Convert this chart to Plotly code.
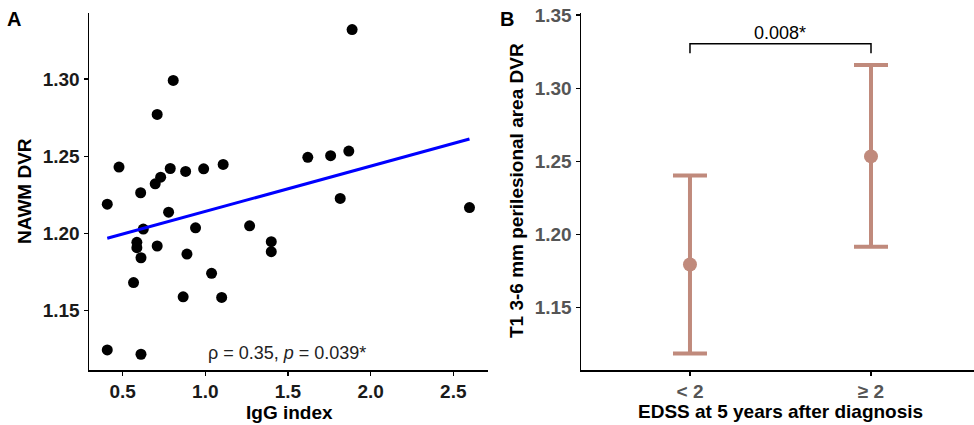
import numpy as np
import plotly.graph_objects as go

# ---------------- Panel A data ----------------
igg_index = [1.888, 0.806, 0.709, 1.868, 1.758, 1.620, 1.108, 0.990, 0.881, 0.788,
             0.730, 0.697, 0.609, 0.478, 0.407, 1.816, 2.598, 0.778,
             0.625, 0.941, 1.268, 0.586, 0.586, 0.709, 1.399, 1.399, 0.889, 0.611,
             1.038, 0.566, 0.866, 1.099, 0.407, 0.611]
nawm_dvr = [1.332, 1.299, 1.277, 1.2533, 1.2503, 1.2492, 1.2446, 1.2418, 1.2401, 1.2420,
            1.2364, 1.2321, 1.2263, 1.2429, 1.2189, 1.2226, 1.2167, 1.2137,
            1.2028, 1.2036, 1.2049, 1.1942, 1.1907, 1.1918, 1.1946, 1.1881, 1.1866, 1.1842,
            1.1741, 1.1681, 1.1589, 1.1585, 1.1245, 1.1217]
x_ticks_a = [0.5, 1.0, 1.5, 2.0, 2.5]
y_ticks_a = [1.15, 1.20, 1.25, 1.30]
annot_a = "ρ = 0.35, <i>p</i> = 0.039*"

# ---------------- Panel B data ----------------
edss_groups = ["< 2", "≥ 2"]
group_mean = [1.1795, 1.2534]
group_upper = [1.2404, 1.3159]
group_lower = [1.1186, 1.1916]
y_ticks_b = [1.15, 1.20, 1.25, 1.30, 1.35]
bracket_y = [1.3239, 1.3304, 1.3304, 1.3239]
p_text_b = "0.008*"

# regression line
slope, intercept = np.polyfit(igg_index, nawm_dvr, 1)
fit_x = np.array([min(igg_index), max(igg_index)])
fit_y = intercept + slope * fit_x

W, H = 974, 425
def px(x):
    return x / W
def py(y):
    return 1 - y / H

fig = go.Figure()

fig.add_trace(go.Scatter(x=igg_index, y=nawm_dvr, mode="markers",
                         marker=dict(color="black", size=11),
                         xaxis="x", yaxis="y", showlegend=False))
fig.add_trace(go.Scatter(x=fit_x, y=fit_y, mode="lines",
                         line=dict(color="#0000ff", width=3),
                         xaxis="x", yaxis="y", showlegend=False))

err_plus = [u - m for u, m in zip(group_upper, group_mean)]
err_minus = [m - l for m, l in zip(group_mean, group_lower)]
brown = "#C08A7C"
fig.add_trace(go.Scatter(x=edss_groups, y=group_mean, mode="markers",
                         marker=dict(color=brown, size=14),
                         error_y=dict(type="data", symmetric=False, array=err_plus,
                                      arrayminus=err_minus, color=brown,
                                      thickness=4, width=17),
                         xaxis="x2", yaxis="y2", showlegend=False))
fig.add_trace(go.Scatter(x=[edss_groups[0], edss_groups[0], edss_groups[1], edss_groups[1]],
                         y=bracket_y, mode="lines",
                         line=dict(color="black", width=1.5),
                         xaxis="x2", yaxis="y2", showlegend=False))

tickfont_a = dict(family="Liberation Sans, Arial", size=19, color="#1a1a1a")
tickfont_b = dict(family="Liberation Sans, Arial", size=19, color="#555555")
ydom = [py(370), py(13)]

common = dict(showline=True, linecolor="black", linewidth=1.5, ticks="outside",
              ticklen=4, tickcolor="black", tickwidth=1.2, showgrid=False, zeroline=False,
              automargin=False)

fig.update_layout(
    template="none",
    width=W, height=H,
    margin=dict(l=0, r=0, t=0, b=0, pad=0),
    plot_bgcolor="white", paper_bgcolor="white",
    font=dict(family="Liberation Sans, Arial", color="black"),
    hovermode=False,
    xaxis=dict(domain=[px(89), px(488)], range=[0.2965, 2.71], tickvals=x_ticks_a,
               ticktext=["<b>%.1f</b>" % v for v in x_ticks_a], tickfont=tickfont_a,
               anchor="y", **common),
    yaxis=dict(domain=ydom, range=[1.1115, 1.3427], tickvals=y_ticks_a,
               ticktext=["<b>%.2f</b>" % v for v in y_ticks_a], tickfont=tickfont_a,
               anchor="x", **common),
    xaxis2=dict(domain=[px(581), 1.0], range=[-0.602, 1.569], type="category",
                categoryorder="array", categoryarray=edss_groups,
                tickvals=edss_groups, ticktext=["<b>%s</b>" % g for g in edss_groups],
                tickfont=tickfont_b, anchor="y2", **common),
    yaxis2=dict(domain=ydom, range=[1.1074, 1.3514], tickvals=y_ticks_b,
                ticktext=["<b>%.2f</b>" % v for v in y_ticks_b], tickfont=tickfont_b,
                anchor="x2", **common),
)

title_font = dict(family="Liberation Sans, Arial", size=19, color="black")
annots = [
    dict(text="<b>A</b>", x=px(14), y=py(19), font=dict(size=20, color="black")),
    dict(text="<b>B</b>", x=px(507), y=py(19), font=dict(size=20, color="black")),
    dict(text="<b>NAWM DVR</b>", x=px(24), y=py(191), textangle=-90, font=title_font),
    dict(text="<b>IgG index</b>", x=px(289), y=py(412), font=title_font),
    dict(text="<b>T1 3-6 mm perilesional area DVR</b>", x=px(516), y=py(191),
         textangle=-90, font=title_font),
    dict(text="<b>EDSS at 5 years after diagnosis</b>", x=px(780), y=py(411), font=title_font),
]
for a in annots:
    fig.add_annotation(xref="paper", yref="paper", showarrow=False,
                       xanchor="center", yanchor="middle", **a)

fig.add_annotation(xref="x", yref="y", x=1.495, y=1.1225, text=annot_a, showarrow=False,
                   xanchor="center", yanchor="middle",
                   font=dict(family="Liberation Sans, Arial", size=18, color="#222222"))
fig.add_annotation(xref="x2", yref="y2", x=0.5, y=1.3304, text=p_text_b, showarrow=False,
                   xanchor="center", yanchor="bottom", yshift=-1,
                   font=dict(family="Liberation Sans, Arial", size=18, color="black"))

fig.write_html("out.html", config={"displayModeBar": False, "staticPlot": True},
               post_script="document.body.style.margin='0';document.body.style.overflow='hidden';")
